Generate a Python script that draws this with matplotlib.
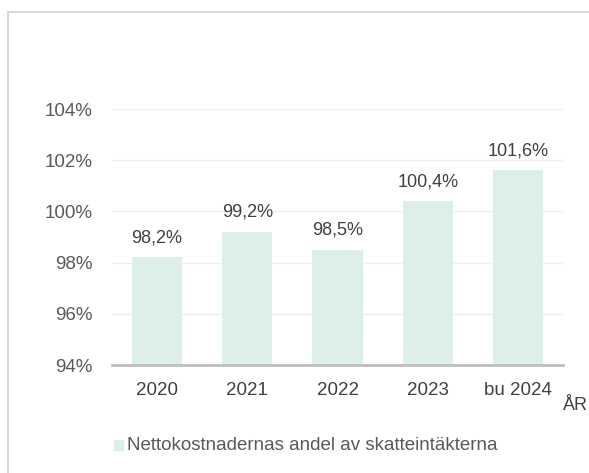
import matplotlib.pyplot as plt
from matplotlib.patches import Rectangle

# data
years = ['2020', '2021', '2022', '2023', 'bu 2024']
share = [98.2, 99.2, 98.5, 100.4, 101.6]
value_labels = ['98,2%', '99,2%', '98,5%', '100,4%', '101,6%']
yticks = [94, 96, 98, 100, 102, 104]

bar_color = '#DDEFEA'
text_color = '#595959'

plt.rcParams['font.family'] = ['Liberation Sans', 'DejaVu Sans']

fig = plt.figure(figsize=(5.89, 4.73), dpi=100)
ax = fig.add_axes([112 / 589, 1 - 365 / 473, (563 - 112) / 589, (365 - 109) / 473])

# light frame around the chart (runs off the right/bottom edge)
fig.patches.append(Rectangle((8 / 589, -0.05), 1.2, 1 - 12 / 473 + 0.05,
                             transform=fig.transFigure, fill=False,
                             edgecolor='#D9D9D9', linewidth=1.5, zorder=0))

x = range(len(years))
ax.bar(x, [v - 94 for v in share], bottom=94, width=0.555, color=bar_color, zorder=2)

for i, (v, lab) in enumerate(zip(share, value_labels)):
    ax.annotate(lab, (i, v), xytext=(0, 8), textcoords='offset points',
                ha='center', va='bottom', fontsize=13, color='#404040')

ax.set_xlim(-0.5, len(years) - 0.5)
ax.set_ylim(94, 104)
ax.set_yticks(yticks)
ax.set_yticklabels([f'{t}%' for t in yticks])
ax.set_xticks(list(x))
ax.set_xticklabels(years)
ax.tick_params(axis='y', length=0, pad=14, labelsize=13.5, labelcolor=text_color)
ax.tick_params(axis='x', length=0, pad=12, labelsize=13.5, labelcolor='#404040')

ax.grid(axis='y', color='#EFEFEF', linewidth=1, zorder=1)
ax.set_axisbelow(True)
for s in ['top', 'right', 'left']:
    ax.spines[s].set_visible(False)
ax.spines['bottom'].set_color('#BFBFBF')
ax.spines['bottom'].set_linewidth(2)
ax.spines['bottom'].set_zorder(3)

fig.text(575 / 589, 1 - 405 / 473, 'ÅR', ha='center', va='center',
         fontsize=13, color='#404040')

# legend drawn by hand to place it like the original
fig.patches.append(Rectangle((114 / 589, 1 - 450 / 473), 9 / 589, 10 / 473,
                             transform=fig.transFigure, color=bar_color))
fig.text(127 / 589, 1 - 445 / 473, 'Nettokostnadernas andel av skatteintäkterna',
         ha='left', va='center', fontsize=13.5, color=text_color)

fig.savefig('out.png', dpi=100)
